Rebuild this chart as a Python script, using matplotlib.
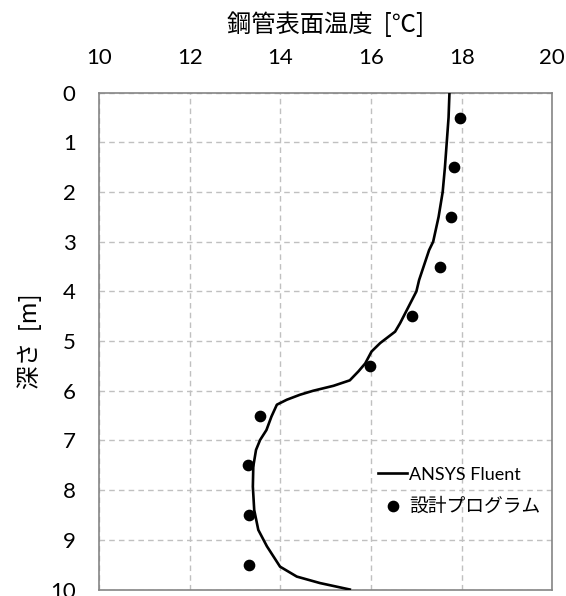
import matplotlib
matplotlib.use("Agg")
import matplotlib.pyplot as plt

# ANSYS Fluent simulated steel-pipe surface temperature profile
fluent_temp = [17.73, 17.71, 17.67, 17.63, 17.58, 17.49, 17.37, 17.28, 17.06, 17.00,
               16.64, 16.53, 16.20, 16.01, 15.87, 15.72, 15.53, 15.17, 14.72, 14.43,
               14.14, 13.92, 13.80, 13.69, 13.55, 13.46, 13.40, 13.39, 13.42, 13.51,
               13.70, 13.99, 14.36, 14.87, 15.53]
fluent_depth = [0.0, 0.5, 1.0, 1.5, 2.0, 2.5, 3.0, 3.17, 3.77, 4.0,
                4.64, 4.81, 5.04, 5.21, 5.45, 5.61, 5.79, 5.90, 6.00, 6.08,
                6.18, 6.28, 6.52, 6.79, 6.99, 7.19, 7.52, 7.93, 8.40, 8.80,
                9.13, 9.54, 9.74, 9.87, 10.0]

# Design program results
design_temp = [17.97, 17.84, 17.76, 17.52, 16.91, 15.98, 13.55, 13.29, 13.31, 13.31]
design_depth = [0.5, 1.5, 2.5, 3.5, 4.5, 5.5, 6.5, 7.5, 8.5, 9.5]

x_ticks = [10, 12, 14, 16, 18, 20]
y_ticks = [0, 1, 2, 3, 4, 5, 6, 7, 8, 9, 10]

FAM = ["Lato", "Noto Sans CJK JP", "DejaVu Sans"]
JFAM = ["Noto Sans CJK JP", "DejaVu Sans"]
plt.rcParams["font.family"] = FAM

fig = plt.figure(figsize=(5.66, 5.96), dpi=100)
ax = fig.add_axes([0.1754, 0.0109, 0.8004, 0.8336])

ax.plot(fluent_temp, fluent_depth, color="black", lw=1.9, label="ANSYS Fluent", zorder=3)
ax.plot(design_temp, design_depth, ls="none", marker="o", ms=7.4, color="black",
        label="設計プログラム", zorder=4)

ax.set_xlim(10, 20)
ax.set_ylim(10, 0)
ax.set_xticks(x_ticks)
ax.set_yticks(y_ticks)
ax.xaxis.tick_top()
ax.xaxis.set_label_position("top")
ax.tick_params(axis="both", length=0, labelsize=16, colors="black")
ax.tick_params(axis="x", pad=18)
ax.tick_params(axis="y", pad=17)

ax.grid(True, color="#c0c0c0", ls=(0, (4, 3)), lw=1.0)
ax.set_axisbelow(True)
for s in ax.spines.values():
    s.set_color("#858585")
    s.set_linewidth(1.2)

ax.set_xlabel("鋼管表面温度  [℃]", family=JFAM, fontsize=17.5, labelpad=11)
ax.set_ylabel("深さ  [m]", family=JFAM, fontsize=17, labelpad=6)

leg = ax.legend(loc="upper left", bbox_to_anchor=(0.6, 0.262), frameon=False,
                fontsize=13, handlelength=1.6, handletextpad=0.1, labelspacing=0.85,
                borderaxespad=0)
for t in leg.get_texts():
    t.set_family(FAM)
leg.get_texts()[1].set_fontsize(13.5)

fig.savefig("out.png", dpi=100)
